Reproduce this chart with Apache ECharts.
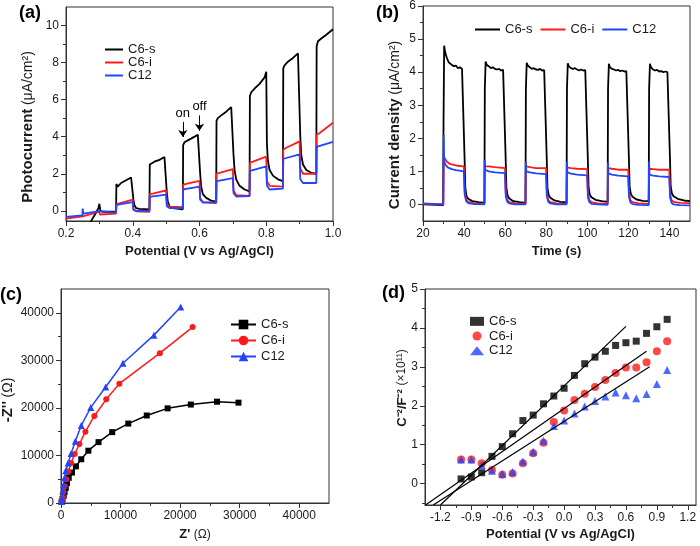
<!DOCTYPE html>
<html><head><meta charset="utf-8">
<script src="https://cdn.jsdelivr.net/npm/echarts@6/dist/echarts.min.js"></script>
<style>html,body{margin:0;padding:0;background:#fff}#c{width:700px;height:546px}</style>
</head><body><div id="c"></div>
<script>
// ---------- Panel (a): chopped LSV photocurrent ----------
const aC6s = [[0.265,-0.9],[0.28,-0.4],[0.29,-0.1],[0.297,0.15],[0.3,0.38],[0.303,0.0],[0.31,-0.05],[0.35,-0.05],
[0.351,1.45],[0.355,1.3],[0.365,1.5],[0.38,1.65],[0.395,1.8],[0.4,1.85],
[0.402,0.6],[0.405,0.3],[0.41,0.15],[0.42,0.1],[0.45,0.08],
[0.451,2.5],[0.455,2.55],[0.465,2.65],[0.48,2.75],[0.495,2.9],[0.5,2.95],
[0.502,1.0],[0.505,0.5],[0.51,0.25],[0.52,0.15],[0.55,0.08],
[0.551,3.55],[0.555,3.7],[0.565,3.8],[0.58,3.95],[0.595,4.1],[0.6,4.2],
[0.602,2.0],[0.605,1.3],[0.61,0.9],[0.62,0.7],[0.635,0.55],[0.65,0.5],
[0.651,4.85],[0.655,5.0],[0.665,5.15],[0.68,5.35],[0.695,5.6],[0.7,5.7],
[0.702,3.0],[0.705,2.2],[0.71,1.7],[0.72,1.35],[0.735,1.15],[0.75,1.05],
[0.751,6.2],[0.755,6.4],[0.765,6.6],[0.78,6.85],[0.795,7.2],[0.797,7.15],[0.8,7.5],
[0.802,3.6],[0.805,2.7],[0.81,2.2],[0.82,1.9],[0.835,1.7],[0.85,1.6],
[0.851,7.7],[0.855,7.85],[0.865,8.05],[0.88,8.25],[0.895,8.5],[0.9,8.55],
[0.902,4.0],[0.905,3.0],[0.91,2.5],[0.92,2.2],[0.935,2.05],[0.95,2.0],
[0.951,8.9],[0.955,9.15],[0.965,9.3],[0.98,9.5],[1.0,9.8]];
const aC6i = [[0.2,-0.42],[0.25,-0.3],[0.251,-0.2],[0.3,-0.05],[0.302,-0.2],[0.35,-0.15],
[0.351,0.35],[0.36,0.4],[0.4,0.6],[0.402,0.1],[0.41,-0.03],[0.45,-0.05],
[0.451,0.9],[0.46,0.93],[0.5,1.1],[0.502,0.4],[0.51,0.22],[0.55,0.2],
[0.551,1.4],[0.56,1.45],[0.6,1.62],[0.602,0.7],[0.61,0.45],[0.65,0.42],
[0.651,2.0],[0.66,2.05],[0.7,2.25],[0.702,1.1],[0.71,0.85],[0.75,0.8],
[0.751,2.6],[0.76,2.65],[0.8,2.92],[0.802,1.6],[0.81,1.35],[0.85,1.3],
[0.851,3.3],[0.86,3.4],[0.9,3.75],[0.902,2.3],[0.91,2.0],[0.95,2.0],
[0.951,4.1],[0.96,4.2],[1.0,4.75]];
const aC12 = [[0.2,-0.33],[0.249,-0.25],[0.25,0.12],[0.252,-0.15],[0.3,-0.02],[0.301,0.05],[0.303,-0.1],[0.35,-0.1],
[0.351,0.3],[0.36,0.35],[0.4,0.47],[0.402,0.05],[0.41,0.0],[0.45,0.0],
[0.451,0.75],[0.46,0.78],[0.5,0.87],[0.502,0.25],[0.51,0.15],[0.55,0.15],
[0.551,1.15],[0.56,1.18],[0.6,1.3],[0.602,0.6],[0.61,0.45],[0.65,0.45],
[0.651,1.6],[0.66,1.63],[0.7,1.77],[0.702,0.95],[0.71,0.77],[0.75,0.8],
[0.751,2.15],[0.76,2.2],[0.8,2.4],[0.802,1.35],[0.81,1.15],[0.85,1.2],
[0.851,2.8],[0.86,2.85],[0.9,3.05],[0.902,1.7],[0.91,1.5],[0.95,1.5],
[0.951,3.45],[0.96,3.5],[1.0,3.72]];
const aArrowOn = [0.55, 4.8, 3.98];
const aArrowOff = [0.6, 5.15, 4.32];
const aTicksX = [0.2,0.4,0.6,0.8,1.0], aMinorX = [0.3,0.5,0.7,0.9];
const aTicksY = [0,2,4,6,8,10], aMinorY = [1,3,5,7,9];

// ---------- Panel (b): transient photocurrent ----------
const bC6s = [[20,0.0],[29.8,-0.02],[30,2.5],[30.3,4.8],[30.8,4.6],[31.5,4.45],[32.5,4.3],[34,4.22],[35,4.18],[36,4.2],[37,4.12],[38,4.15],[39,4.1],[39.9,4.12],
[40.2,1.5],[40.6,0.5],[41.2,0.25],[42,0.17],[44,0.1],[47,0.07],[49.9,0.05],
[50.1,3.5],[50.5,4.32],[51,4.22],[52,4.18],[53,4.12],[54,4.15],[55,4.1],[56,4.08],[57,4.1],[58,4.05],[59,4.07],[59.9,4.05],
[60.2,1.5],[60.6,0.5],[61.2,0.27],[62,0.18],[64,0.1],[67,0.07],[69.9,0.05],
[70.1,3.5],[70.5,4.28],[71,4.2],[72,4.15],[73,4.1],[74,4.12],[75,4.08],[76,4.07],[77,4.1],[78,4.05],[79,4.06],[79.9,4.04],
[80.2,1.5],[80.6,0.5],[81.2,0.28],[82,0.2],[84,0.12],[87,0.08],[89.9,0.06],
[90.1,3.5],[90.5,4.27],[91,4.18],[92,4.12],[93,4.1],[94,4.12],[95,4.08],[96,4.05],[97,4.08],[98,4.05],[99,4.06],[99.9,4.04],
[100.2,1.5],[100.6,0.55],[101.2,0.3],[102,0.22],[104,0.14],[107,0.1],[109.9,0.08],
[110.1,3.5],[110.5,4.25],[111,4.15],[112,4.1],[113,4.08],[114,4.05],[115,4.07],[116,4.03],[117,4.05],[118,4.02],[119,4.03],[119.9,4.0],
[120.2,1.5],[120.6,0.55],[121.2,0.32],[122,0.23],[124,0.15],[127,0.11],[129.9,0.1],
[130.1,3.5],[130.5,4.25],[131,4.15],[132,4.08],[133,4.05],[134,4.07],[135,4.02],[136,4.03],[137,4.0],[138,4.02],[139,4.0],[139.9,4.0],
[140.2,1.5],[140.6,0.55],[141.2,0.33],[142,0.25],[144,0.17],[147,0.12],[150,0.1]];
const bC6i = [[20,0.02],[29.9,0.0],[30.1,1.45],[30.5,1.4],[31.5,1.3],[33,1.23],[35,1.2],[37,1.17],[39.9,1.15],[40.3,0.4],[41,0.15],[42,0.08],[45,0.03],[49.9,0.02],
[50.1,1.15],[52,1.15],[55,1.13],[59.9,1.1],[60.3,0.35],[61,0.13],[62,0.07],[65,0.03],[69.9,0.02],
[70.1,1.15],[72,1.13],[75,1.1],[79.9,1.1],[80.3,0.35],[81,0.13],[82,0.07],[85,0.03],[89.9,0.02],
[90.1,1.12],[92,1.1],[95,1.08],[99.9,1.07],[100.3,0.35],[101,0.13],[102,0.07],[105,0.03],[109.9,0.02],
[110.1,1.1],[112,1.08],[115,1.05],[119.9,1.05],[120.3,0.35],[121,0.13],[122,0.07],[125,0.03],[129.9,0.02],
[130.1,1.08],[132,1.07],[135,1.05],[139.9,1.05],[140.3,0.35],[141,0.13],[142,0.08],[145,0.05],[150,0.04]];
const bC12 = [[20,0.03],[29.9,0.0],[30.05,2.1],[30.3,1.3],[31,1.2],[32,1.12],[34,1.07],[36,1.04],[39.9,1.0],[40.3,0.3],[41,0.1],[42,0.04],[45,0.01],[49.9,0.0],
[50.05,1.35],[50.3,1.05],[52,1.0],[55,0.97],[59.9,0.95],[60.3,0.25],[61,0.08],[62,0.03],[65,0.0],[69.9,0.0],
[70.05,1.3],[70.3,1.0],[72,0.97],[75,0.94],[79.9,0.92],[80.3,0.25],[81,0.08],[82,0.03],[85,0.0],[89.9,0.0],
[90.05,1.3],[90.3,0.97],[92,0.93],[95,0.9],[99.9,0.88],[100.3,0.22],[101,0.07],[102,0.02],[105,0.0],[109.9,-0.01],
[110.05,1.27],[110.3,0.93],[112,0.9],[115,0.87],[119.9,0.85],[120.3,0.22],[121,0.06],[122,0.01],[125,-0.01],[129.9,-0.02],
[130.05,1.3],[130.3,0.9],[132,0.87],[135,0.85],[139.9,0.83],[140.3,0.2],[141,0.05],[142,0.0],[145,-0.02],[150,-0.03]];
const bTicksX = [20,40,60,80,100,120,140], bMinorX = [30,50,70,90,110,130];
const bTicksY = [0,1,2,3,4,5,6], bMinorY = [0.5,1.5,2.5,3.5,4.5,5.5];

// ---------- Panel (c): Nyquist plots ----------
const cC6s = [[100,200],[250,800],[450,1500],[600,2300],[800,3200],[1000,4200],[1300,5300],[1850,6400],[2500,7700],[3400,9200],[4600,11000],[6300,12800],[8600,14900],[11300,16700],[14400,18400],[17900,19900],[21800,20700],[26200,21300],[29800,21100]];
const cC6i = [[100,300],[300,1100],[400,2300],[600,3500],[900,5000],[1200,6600],[1700,8400],[2300,10300],[3100,12400],[4100,15000],[5600,18300],[7600,21800],[9800,25100],[16600,31500],[22100,37000]];
const cC12 = [[100,300],[200,1100],[300,2500],[450,3900],[600,5300],[800,6800],[1200,8400],[1700,10400],[2400,13000],[3400,16300],[5000,20100],[7500,24400],[10400,29400],[15600,35300],[20100,41200]];
const cTicks = [0,10000,20000,30000,40000], cMinor = [5000,15000,25000,35000];

// ---------- Panel (d): Mott-Schottky ----------
const dPotential = [-1.0,-0.9,-0.8,-0.7,-0.6,-0.5,-0.4,-0.3,-0.2,-0.1,0.0,0.1,0.2,0.3,0.4,0.5,0.6,0.7,0.8,0.9,1.0];
const dC6s = [0.12,0.17,0.28,0.70,0.95,1.28,1.62,1.76,2.05,2.25,2.45,2.78,3.08,3.25,3.40,3.55,3.62,3.66,3.86,4.03,4.22];
const dC6i = [0.62,0.62,0.52,0.35,0.23,0.26,0.52,0.78,1.05,1.58,1.88,2.15,2.31,2.48,2.66,2.84,2.98,2.98,3.12,3.40,3.66];
const dC12 = [0.62,0.62,0.48,0.33,0.25,0.30,0.57,0.82,1.10,1.48,1.62,1.80,1.98,2.12,2.24,2.34,2.27,2.19,2.30,2.56,2.92];
const dFitC6s = [[-1.2,-0.55],[0.6,4.04]];
const dFitC6i = [[-1.345,-0.55],[0.8,3.4]];
const dFitC12 = [[-1.27,-0.55],[0.83,3.0]];
const dTicksX = [-1.2,-0.9,-0.6,-0.3,0.0,0.3,0.6,0.9,1.2], dMinorX = [-1.05,-0.75,-0.45,-0.15,0.15,0.45,0.75,1.05];
const dTicksY = [0,1,2,3,4,5], dMinorY = [-0.5,0.5,1.5,2.5,3.5,4.5];

// ---------- build ----------
const FONT = '"Liberation Sans", Arial, Helvetica, sans-serif';
const AX = '#333', TXT = '#1a1a1a';
const BLACK = '#000000', RED = '#ff1a1a', BLUE = '#2244ff';
const pair = (xs, ys) => xs.map((x, i) => [x, ys[i]]);

function major(grid, min, max, ticks, fmt, name, nameGap, rich) {
  return {
    gridIndex: grid, type: 'value', min, max,
    axisLine: { show: true, onZero: false, lineStyle: { color: AX, width: 1 } },
    axisTick: { show: true, length: 5, customValues: ticks, lineStyle: { color: AX } },
    axisLabel: { show: true, customValues: ticks, formatter: fmt, fontSize: 12, color: TXT, margin: 7, fontFamily: FONT },
    splitLine: { show: false },
    name: name || '', nameLocation: 'middle', nameGap: nameGap || 0,
    nameTextStyle: { fontFamily: FONT, color: TXT, rich }
  };
}
function minor(grid, min, max, ticks, pos) {
  return {
    gridIndex: grid, type: 'value', min, max, position: pos,
    axisLine: { show: false, onZero: false },
    axisTick: { show: true, length: 3, customValues: ticks, lineStyle: { color: AX } },
    axisLabel: { show: false }, splitLine: { show: false }
  };
}
const richBig = {
  b: { fontWeight: 'bold', fontSize: 15, fontFamily: FONT, color: TXT },
  n: { fontWeight: 'normal', fontSize: 14, fontFamily: FONT, color: TXT }
};
const richX = {
  b: { fontWeight: 'bold', fontSize: 13, fontFamily: FONT, color: TXT },
  n: { fontWeight: 'normal', fontSize: 12, fontFamily: FONT, color: TXT }
};
const f1 = v => v.toFixed(1);
const f0 = v => String(v);

const gridBox = { show: true, borderColor: AX, borderWidth: 1, backgroundColor: 'transparent', containLabel: false };
const grids = [
  Object.assign({ left: 66, top: 7, width: 267, height: 214 }, gridBox),
  Object.assign({ left: 423, top: 6, width: 267, height: 215 }, gridBox),
  Object.assign({ left: 61, top: 289, width: 268, height: 214 }, gridBox),
  Object.assign({ left: 425, top: 289, width: 271, height: 216 }, gridBox)
];

const xAxes = [
  major(0, 0.2, 1.0, aTicksX, f1, '{b|Potential (V vs Ag/AgCl)}', 24, richX),
  major(1, 20, 150, bTicksX, f0, '{b|Time (s)}', 24, richX),
  major(2, 0, 45000, cTicks, f0, "{b|Z'} {n|(Ω)}", 25, richX),
  major(3, -1.35, 1.28, dTicksX, f1, '{b|Potential (V vs Ag/AgCl)}', 23, richX),
  minor(0, 0.2, 1.0, aMinorX, 'bottom'),
  minor(1, 20, 150, bMinorX, 'bottom'),
  minor(2, 0, 45000, cMinor, 'bottom'),
  minor(3, -1.35, 1.28, dMinorX, 'bottom')
];
const yAxes = [
  major(0, -0.55, 11, aTicksY, f0),
  major(1, -0.5, 6, bTicksY, f0),
  major(2, 0, 45000, cTicks, f0),
  major(3, -0.55, 5, dTicksY, f0),
  minor(0, -0.55, 11, aMinorY, 'left'),
  minor(1, -0.5, 6, bMinorY, 'left'),
  minor(2, 0, 45000, cMinor, 'left'),
  minor(3, -0.55, 5, dMinorY, 'left')
];

// rotated y-axis titles
function yTitle(x, y, text, rich) {
  return { type: 'text', x, y, rotation: Math.PI / 2, silent: true,
    style: { text, rich, align: 'center', verticalAlign: 'middle', font: '13px ' + FONT, fill: TXT } };
}
const graphics = [
  yTitle(28, 127, '{b|Photocurrent} {n|(μA/cm²)}', richBig),
  yTitle(395, 125, '{b|Current density} {n|(μA/cm²)}', richBig),
  yTitle(8, 400, "{b|-Z''} {n|(Ω)}", richBig),
  yTitle(402, 388, '{b|C⁻²/F⁻²} {n|(×10¹¹)}', richX)
];

function lineS(name, idx, data, color, width) {
  return { name, type: 'line', xAxisIndex: idx, yAxisIndex: idx, data, showSymbol: false, symbol: 'none',
    lineStyle: { color, width: width || 1.8 }, itemStyle: { color }, clip: true, animation: false };
}
function nyq(name, data, color, symbol, size) {
  return { name, type: 'line', xAxisIndex: 2, yAxisIndex: 2, data, symbol, symbolSize: size, showSymbol: true,
    lineStyle: { color, width: 1.5 }, itemStyle: { color }, clip: true, animation: false };
}
function ms(name, data, color, symbol, size) {
  return { name, type: 'scatter', xAxisIndex: 3, yAxisIndex: 3, data, symbol, symbolSize: size,
    itemStyle: { color }, clip: true, animation: false };
}
function fit(data) {
  return { type: 'line', xAxisIndex: 3, yAxisIndex: 3, data, symbol: 'none', showSymbol: false,
    lineStyle: { color: '#000', width: 1.2 }, silent: true, clip: true, animation: false, z: 3 };
}

const aBlack = lineS('a:C6-s', 0, aC6s, BLACK);
aBlack.markLine = {
  silent: true, symbol: ['none', 'arrow'], symbolSize: 7, animation: false,
  lineStyle: { color: '#000', width: 1, type: 'solid' },
  label: { show: true, position: 'start', formatter: '{b}', fontSize: 13, color: '#000', fontFamily: FONT, distance: 2 },
  data: [
    [{ coord: [aArrowOn[0], aArrowOn[1]], name: 'on' }, { coord: [aArrowOn[0], aArrowOn[2]] }],
    [{ coord: [aArrowOff[0], aArrowOff[1]], name: 'off' }, { coord: [aArrowOff[0], aArrowOff[2]] }]
  ]
};

const series = [
  aBlack, lineS('a:C6-i', 0, aC6i, RED), lineS('a:C12', 0, aC12, BLUE),
  lineS('b:C6-s', 1, bC6s, BLACK), lineS('b:C6-i', 1, bC6i, RED), lineS('b:C12', 1, bC12, BLUE),
  nyq('c:C6-s', cC6s, BLACK, 'rect', 6), nyq('c:C6-i', cC6i, RED, 'circle', 6), nyq('c:C12', cC12, BLUE, 'triangle', 7),
  ms('d:C6-s', pair(dPotential, dC6s), BLACK, 'rect', 7),
  ms('d:C6-i', pair(dPotential, dC6i), RED, 'circle', 8),
  ms('d:C12', pair(dPotential, dC12), BLUE, 'triangle', 8),
  fit(dFitC6s), fit(dFitC6i), fit(dFitC12)
];

const legFmt = n => n.split(':')[1];
const legText = { fontSize: 13, color: TXT, fontFamily: FONT };
const lineItems = p => ['C6-s', 'C6-i', 'C12'].map(s => ({ name: p + ':' + s, icon: 'rect' }));
const legends = [
  { orient: 'vertical', left: 105, top: 43, itemWidth: 18, itemHeight: 2, itemGap: 0, data: lineItems('a'), formatter: legFmt,
    textStyle: Object.assign({ lineHeight: 12.3 }, legText), selectedMode: false, padding: 0 },
  { orient: 'horizontal', left: 475, top: 23, itemWidth: 25, itemHeight: 2, itemGap: 8, data: lineItems('b'), formatter: legFmt,
    textStyle: legText, selectedMode: false, padding: 0 },
  { orient: 'vertical', left: 230, top: 318, itemWidth: 25, itemHeight: 12, itemGap: 3, data: ['c:C6-s','c:C6-i','c:C12'], formatter: legFmt,
    textStyle: legText, selectedMode: false, padding: 0 },
  { orient: 'vertical', left: 470, top: 314, itemWidth: 14, itemHeight: 9, itemGap: 0, data: ['d:C6-s','d:C6-i','d:C12'], formatter: legFmt,
    textStyle: Object.assign({ lineHeight: 14.7 }, legText), selectedMode: false, padding: 0 }
];

const titleStyle = { fontSize: 18, fontWeight: 'bold', color: '#000', fontFamily: FONT };
const titles = [
  { text: '(a)', left: 19, top: 4, textStyle: titleStyle, padding: 0 },
  { text: '(b)', left: 376, top: 4, textStyle: titleStyle, padding: 0 },
  { text: '(c)', left: 0, top: 286, textStyle: titleStyle, padding: 0 },
  { text: '(d)', left: 382, top: 284, textStyle: titleStyle, padding: 0 }
];

const chart = echarts.init(document.getElementById('c'), null, { renderer: 'canvas' });
chart.setOption({
  animation: false,
  backgroundColor: '#ffffff',
  textStyle: { fontFamily: FONT },
  title: titles,
  legend: legends,
  grid: grids,
  xAxis: xAxes,
  yAxis: yAxes,
  graphic: graphics,
  series
});
</script></body></html>
